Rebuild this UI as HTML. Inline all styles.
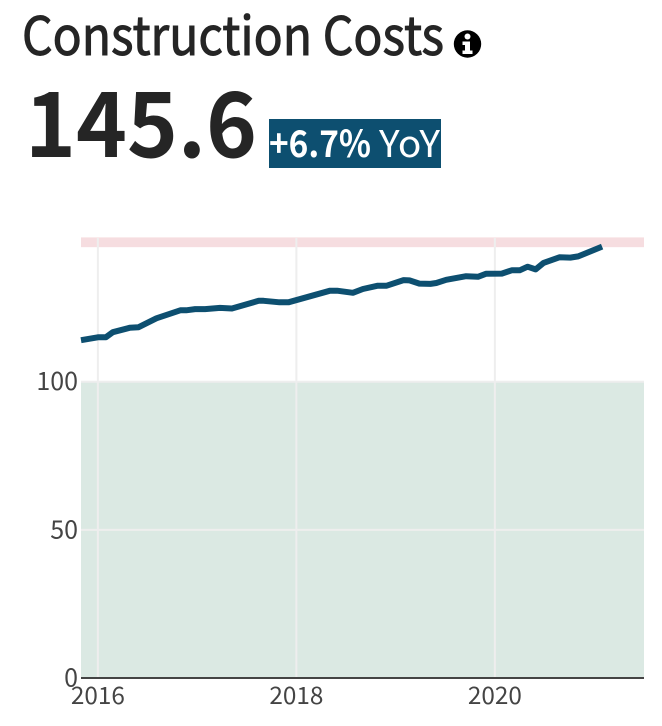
<!DOCTYPE html>
<html>
<head>
<meta charset="utf-8">
<style>
html,body{margin:0;padding:0;background:#fff;width:662px;height:726px;overflow:hidden}
svg{display:block}
text{font-family:"Noto Sans CJK JP","Liberation Sans",sans-serif}
</style>
</head>
<body>
<svg id="chart" width="662" height="726" viewBox="0 0 662 726" xmlns="http://www.w3.org/2000/svg">
  <text x="22" y="55" font-size="53" fill="#252525" stroke="#252525" stroke-width="1" textLength="422" lengthAdjust="spacingAndGlyphs">Construction Costs</text>
  <g>
    <circle cx="467.5" cy="44" r="13.7" fill="#000"></circle>
    <circle cx="467.5" cy="36.5" r="3" fill="#fff"></circle>
    <path d="M462.5 41.5h7.5v9h2.5v3.5h-10v-3.5h2.5v-5.5h-2.5z" fill="#fff"></path>
  </g>
  <text x="25" y="157" font-size="90" font-weight="700" fill="#252525" textLength="232" lengthAdjust="spacingAndGlyphs">145.6</text>
  <rect x="269" y="119" width="172" height="49" fill="#0d4f70"></rect>
  <text x="269" y="157" font-size="37" font-weight="700" fill="#fff" textLength="102" lengthAdjust="spacingAndGlyphs">+6.7%</text>
  <text x="379" y="157" font-size="37" fill="#fff" textLength="61" lengthAdjust="spacingAndGlyphs">YoY</text>
  <g id="plot"></g>
</svg>
<script>
const dates = [2015.83,2016.00,2016.08,2016.15,2016.32,2016.41,2016.59,2016.83,2016.89,2016.98,2017.08,2017.23,2017.35,2017.62,2017.67,2017.83,2017.92,2018.34,2018.41,2018.57,2018.67,2018.82,2018.91,2019.08,2019.14,2019.24,2019.35,2019.41,2019.51,2019.71,2019.83,2019.91,2020.07,2020.17,2020.25,2020.33,2020.41,2020.49,2020.65,2020.76,2020.84,2020.92,2021.08];
const costs = [114.0,115.0,115.0,116.7,118.2,118.4,121.4,124.1,124.1,124.5,124.5,124.9,124.7,127.3,127.3,126.8,126.8,130.7,130.7,130.0,131.3,132.4,132.4,134.3,134.2,133.1,133.0,133.3,134.4,135.6,135.4,136.4,136.5,137.6,137.6,138.8,137.9,140.1,142.0,141.9,142.3,143.4,145.6];
const xTicks = [2016,2018,2020];
const yTicks = [0,50,100];
const xDomain = [2015.83,2021.49];
const yGoodBand = [0,100];
const yBadBand = [145.4,148.7];

const plotLeft = 81, plotRight = 644, plotTop = 238, plotBottom = 678;
const pxPerYear = 99.25, pxPerUnit = 2.963;
function xScale(v){ return plotLeft + (v - xDomain[0]) * pxPerYear; }
function yScale(v){ return plotBottom - v * pxPerUnit; }

const NS = 'http://www.w3.org/2000/svg';
const plot = document.getElementById('plot');
function make(tag, attrs, text){
  const el = document.createElementNS(NS, tag);
  for (const k in attrs) el.setAttribute(k, attrs[k]);
  if (text !== undefined) el.textContent = text;
  plot.appendChild(el);
  return el;
}

const good = make('rect', {x: plotLeft, y: yScale(yGoodBand[1]), width: plotRight - plotLeft, height: yScale(yGoodBand[0]) - yScale(yGoodBand[1]), fill: '#dbe9e3'});



const bad = make('rect', {x: plotLeft, y: yScale(yBadBand[1]), width: plotRight - plotLeft, height: yScale(yBadBand[0]) - yScale(yBadBand[1]), fill: '#f6dde0'});



xTicks.forEach(function(t){
  const g = make('line', {x1: xScale(t), x2: xScale(t), y1: plotTop, y2: plotBottom, stroke: '#eeeeee', 'stroke-width': 2});
  
  
  const l = make('text', {x: xScale(t), y: 704, 'font-size': 24, fill: '#444', 'text-anchor': 'middle', textLength: 54, lengthAdjust: 'spacingAndGlyphs'}, String(t));
  
  
});

yTicks.forEach(function(t){
  if (t > 0) {
    const g = make('line', {x1: plotLeft, x2: plotRight, y1: yScale(t), y2: yScale(t), stroke: '#eeeeee', 'stroke-width': 2});
    
    
  }
  const l = make('text', {x: 78, y: yScale(t) + 8.5, 'font-size': 25, fill: '#444', 'text-anchor': 'end'}, String(t));
  
  
});

const axis = make('line', {x1: plotLeft, x2: plotRight, y1: yScale(0), y2: yScale(0), stroke: '#444', 'stroke-width': 2});



const pts = dates.map(function(d, i){ return xScale(d).toFixed(1) + ',' + yScale(costs[i]).toFixed(1); }).join(' ');
const series = make('polyline', {points: pts, fill: 'none', stroke: '#0d4f70', 'stroke-width': 6, 'stroke-linejoin': 'round'});


</script>
</body>
</html>
